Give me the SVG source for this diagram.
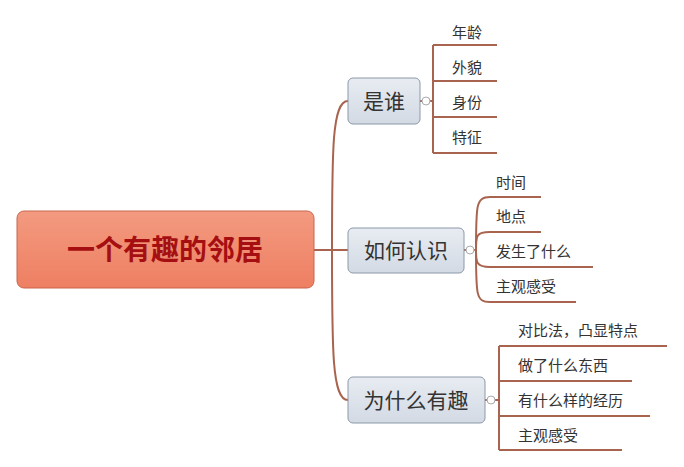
<svg xmlns="http://www.w3.org/2000/svg" width="684" height="467" viewBox="0 0 684 467">
<defs>
<linearGradient id="cg" x1="0" y1="0" x2="0" y2="1"><stop offset="0" stop-color="#f39a80"/><stop offset="1" stop-color="#ee7f62"/></linearGradient>
<linearGradient id="bg" x1="0" y1="0" x2="0" y2="1"><stop offset="0" stop-color="#e8ecf2"/><stop offset="1" stop-color="#d3dae4"/></linearGradient>
</defs>
<style>
.c{fill:none;stroke:#a8644e;stroke-width:2}
.b{fill:url(#bg);stroke:#8c98a8;stroke-width:1}
.bt{font-family:"Noto Sans CJK SC",sans-serif;font-size:21px;fill:#333;text-anchor:middle}
.lt{font-family:"Noto Sans CJK SC",sans-serif;font-size:15px;fill:#333}
.k{fill:#fff;stroke:#aaa;stroke-width:1}
</style>
<rect width="684" height="467" fill="#fff"/>
<g id="connectors">
<path class="c" d="M314,250 H332 M332,250 C332,150 332,101 348,101 M332,250 H348 M332,250 C332,350 332,400 348,400"/>
<path class="c" d="M420,101 H433 M433,45 V153 M433,45 H497 M433,81 H497 M433,117 H497 M433,153 H497"/>
<path class="c" d="M464,250 H476 M476,250 C476,205 476,197 490,197 H541 M476,250 C476,236 476,232 490,232 H541 M476,250 C476,262 476,267 490,267 H593 M476,250 C476,295 476,302 490,302 H576"/>
<path class="c" d="M485,400 H499 M499,346 V450 M499,346 H667 M499,381 H632 M499,416 H650 M499,450 H622"/>
</g>
<g id="center"><rect x="17" y="211" width="297" height="77" rx="7" fill="url(#cg)" stroke="#c8674e"/>
<text x="165" y="260" text-anchor="middle" font-family="Noto Sans CJK SC,sans-serif" font-size="28" font-weight="bold" fill="#a50f12">一个有趣的邻居</text></g>
<g id="n1"><rect class="b" x="348" y="78" width="72" height="46" rx="5"/><text class="bt" x="384" y="109">是谁</text><circle class="k" cx="426" cy="101" r="4"/></g>
<g id="n2"><rect class="b" x="348" y="228" width="116" height="45" rx="5"/><text class="bt" x="406" y="258">如何认识</text><circle class="k" cx="470" cy="250" r="4"/></g>
<g id="n3"><rect class="b" x="348" y="377" width="137" height="46" rx="5"/><text class="bt" x="416" y="408">为什么有趣</text><circle class="k" cx="491" cy="400" r="4"/></g>
<g id="leaves">
<text class="lt" x="452" y="38">年龄</text><text class="lt" x="452" y="73">外貌</text><text class="lt" x="452" y="108">身份</text><text class="lt" x="452" y="143">特征</text>
<text class="lt" x="496" y="188">时间</text><text class="lt" x="496" y="222">地点</text><text class="lt" x="496" y="257">发生了什么</text><text class="lt" x="496" y="292">主观感受</text>
<text class="lt" x="518" y="336">对比法，凸显特点</text><text class="lt" x="518" y="371">做了什么东西</text><text class="lt" x="518" y="406">有什么样的经历</text><text class="lt" x="518" y="441">主观感受</text>
</g>
</svg>
